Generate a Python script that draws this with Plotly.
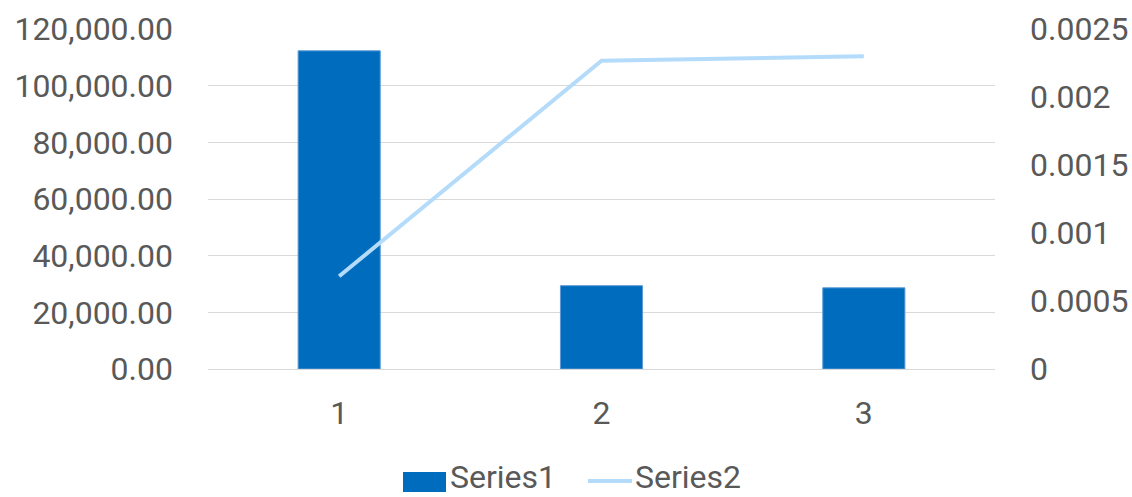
import plotly.graph_objects as go

categories = ["1", "2", "3"]
series1 = [112300, 29400, 28650]
series2 = [0.000682, 0.002266, 0.002299]

left_ticks = [0, 20000, 40000, 60000, 80000, 100000, 120000]
left_labels = ["0.00", "20,000.00", "40,000.00", "60,000.00", "80,000.00", "100,000.00", "120,000.00"]
right_ticks = [0, 0.0005, 0.001, 0.0015, 0.002, 0.0025]
right_labels = ["0", "0.0005", "0.001", "0.0015", "0.002", "0.0025"]

FONT = "Roboto, Liberation Sans, sans-serif"
TEXT = "#595959"
BAR = "#006CBE"
LINE = "#B4DCFA"
FS = 32

W, H = 1132, 497
L, R, T, B = 208, 137, 29, 128
PW, PH = W - L - R, H - T - B


def px(x):
    return (x - L) / PW


def py(y):
    return (H - B - y) / PH


fig = go.Figure()
fig.add_trace(go.Bar(
    x=categories, y=series1, name="Series1", showlegend=False,
    marker=dict(color=BAR, line=dict(color="#5B9BD5", width=1)),
))
fig.add_trace(go.Scatter(
    x=categories, y=series2, name="Series2", yaxis="y2", showlegend=False,
    mode="lines", line=dict(color=LINE, width=4),
))

# legend drawn as shapes + text below the plot
shapes = [
    dict(type="rect", xref="paper", yref="paper",
         x0=px(403), x1=px(446), y0=py(492), y1=py(472),
         fillcolor=BAR, line=dict(width=0)),
    dict(type="line", xref="paper", yref="paper",
         x0=px(588), x1=px(632), y0=py(481), y1=py(481),
         line=dict(color=LINE, width=4)),
]
annotations = [
    dict(text="Series1", xref="paper", yref="paper", x=px(449), y=py(477),
         xanchor="left", yanchor="middle", showarrow=False, borderpad=0,
         font=dict(family=FONT, size=FS, color=TEXT)),
    dict(text="Series2", xref="paper", yref="paper", x=px(634), y=py(477),
         xanchor="left", yanchor="middle", showarrow=False, borderpad=0,
         font=dict(family=FONT, size=FS, color=TEXT)),
]

fig.update_layout(
    width=W, height=H,
    margin=dict(l=L, r=R, t=T, b=B),
    paper_bgcolor="white", plot_bgcolor="white",
    font=dict(family=FONT, size=FS, color=TEXT),
    bargap=0.687,
    showlegend=False,
    shapes=shapes,
    annotations=annotations,
    xaxis=dict(showgrid=False, showline=True, linecolor="#D9D9D9", linewidth=1,
               ticks="", ticklabelstandoff=16, automargin=False,
               tickfont=dict(size=FS, color=TEXT)),
    yaxis=dict(range=[0, 120000], tickvals=left_ticks, ticktext=left_labels,
               showgrid=True, gridcolor="#D9D9D9", gridwidth=1, zeroline=False,
               showline=False, ticks="", ticklabelstandoff=34, automargin=False,
               tickfont=dict(size=FS, color=TEXT)),
    yaxis2=dict(range=[0, 0.0025], tickvals=right_ticks, ticktext=right_labels,
                overlaying="y", side="right", showgrid=False, zeroline=False,
                showline=False, ticks="", ticklabelstandoff=34, automargin=False,
                tickfont=dict(size=FS, color=TEXT)),
)

fig.write_html("out.html")
